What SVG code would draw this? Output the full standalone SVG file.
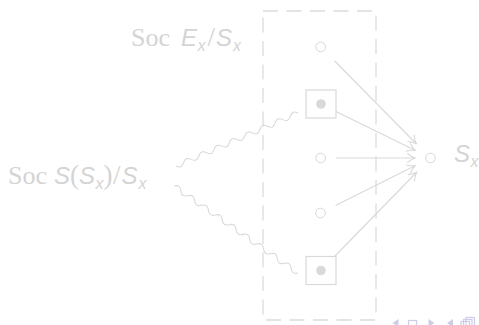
<svg xmlns="http://www.w3.org/2000/svg" width="479" height="325" viewBox="0 0 479 325">
<defs>
<style>
.ln{fill:none;stroke:#d9d9d9;stroke-width:1.1}
.box{fill:none;stroke:#d9d9d9;stroke-width:1.2}
.dot{fill:#d9d9d9}
.oc{fill:#ffffff;stroke:#d9d9d9;stroke-width:1}
.rm{font-family:"Liberation Serif",serif;font-size:26px;fill:#d4d4d4}
.it{font-family:"Liberation Sans",sans-serif;font-style:italic;font-size:24px;fill:#d4d4d4}
.sb{font-family:"Liberation Sans",sans-serif;font-style:italic;font-size:16px;fill:#d4d4d4}
.up{font-family:"Liberation Serif",serif;font-size:27px;fill:#d4d4d4}
.nav{fill:#cdcde8;stroke:none}
.navs{fill:none;stroke:#cdcde8;stroke-width:1.2}
</style>
<marker id="to" viewBox="-9 -6 11 12" markerWidth="11" markerHeight="12" refX="0" refY="0" orient="auto" markerUnits="userSpaceOnUse">
<path d="M-8,-4.5 Q-3,-0.6 0,0 Q-3,0.6 -8,4.5" fill="none" stroke="#d9d9d9" stroke-width="1.1" stroke-linecap="round"/>
</marker>
</defs>
<rect width="479" height="325" fill="#ffffff"/>

<g id="frame">
<path d="M263,11 H376 V320 H263 Z" fill="none" stroke="#dcdcdc" stroke-width="1.3" stroke-dasharray="15 8.5"/>
</g>

<g id="label-ex">
<text class="rm" x="131" y="46">Soc</text>
<text class="it" x="181" y="46">E</text>
<text class="sb" x="197.5" y="51">x</text>
<text class="up" x="207.5" y="46">/</text>
<text class="it" x="216" y="46">S</text>
<text class="sb" x="233" y="51">x</text>
</g>

<g id="label-ssx">
<text class="rm" x="8" y="184">Soc</text>
<text class="it" x="54" y="184">S</text>
<text class="up" x="70" y="184">(</text>
<text class="it" x="79" y="184">S</text>
<text class="sb" x="95.5" y="189">x</text>
<text class="up" x="103.5" y="184">)</text>
<text class="up" x="113" y="184">/</text>
<text class="it" x="121.5" y="184">S</text>
<text class="sb" x="138.5" y="189">x</text>
</g>

<g id="n1"><circle class="oc" cx="320.7" cy="47" r="4.8"/></g>
<g id="n2"><rect class="box" x="306" y="90" width="30" height="28"/><circle class="dot" cx="321" cy="104" r="4.8"/></g>
<g id="n3"><circle class="oc" cx="320.7" cy="158" r="4.8"/></g>
<g id="n4"><circle class="oc" cx="320.5" cy="213" r="4.8"/></g>
<g id="n5"><rect class="box" x="306" y="256.5" width="30" height="28"/><circle class="dot" cx="321" cy="270.5" r="4.8"/></g>
<g id="target">
<circle class="oc" cx="430.5" cy="158" r="4.8"/>
<text class="it" x="454" y="162">S</text>
<text class="sb" x="470.5" y="167">x</text>
</g>

<g id="connectors">
<path class="ln" d="M334.6,61 L416.6,144" marker-end="url(#to)"/>
<path class="ln" d="M336,111.4 L415.5,150.6" marker-end="url(#to)"/>
<path class="ln" d="M336,158 L415.5,158" marker-end="url(#to)"/>
<path class="ln" d="M335.5,205.5 L415.5,165.5" marker-end="url(#to)"/>
<path class="ln" d="M334.6,256.5 L416.9,172" marker-end="url(#to)"/>
<g transform="translate(176,166) rotate(-23.48)">
<path class="ln" d="M0,0 q4.156,5 8.3125,0 t8.3125,0 t8.3125,0 t8.3125,0 t8.3125,0 t8.3125,0 t8.3125,0 t8.3125,0 t8.3125,0 t8.3125,0 t8.3125,0 t8.3125,0 t8.3125,0 t8.3125,0 t8.3125,0 t8.3125,0"/>
</g>
<g transform="translate(174,186) rotate(35.06)">
<path class="ln" d="M0,0 q4.208,-5 8.416,0 t8.416,0 t8.416,0 t8.416,0 t8.416,0 t8.416,0 t8.416,0 t8.416,0 t8.416,0 t8.416,0 t8.416,0 t8.416,0 t8.416,0 t8.416,0 t8.416,0 t8.416,0 t8.416,0 t8.416,0"/>
</g>
</g>

<g id="navigation">
<polygon class="nav" points="392.5,323 398.5,319 398.5,327"/>
<rect class="navs" x="408.5" y="320.5" width="8" height="8"/>
<polygon class="nav" points="428.5,319 428.5,327 434.5,323"/>
<polygon class="nav" points="453,319 453,327 447,323"/>
<rect class="navs" x="466" y="317.5" width="8.5" height="8"/>
<rect class="navs" x="463.5" y="319.5" width="8.5" height="8"/>
<rect class="navs" x="461" y="321.5" width="8.5" height="8"/>
</g>
</svg>
